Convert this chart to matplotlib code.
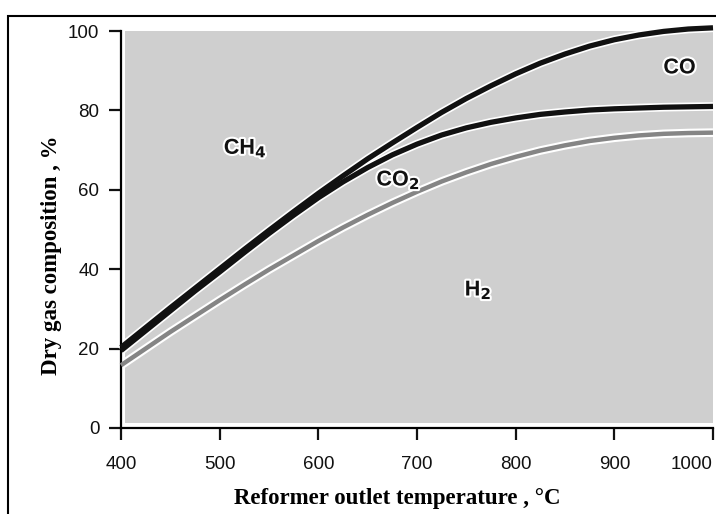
import numpy as np
import matplotlib.pyplot as plt
import matplotlib.patheffects as pe
from matplotlib.patches import Rectangle

# Температура на виході риформера, °C
temps = [400, 425, 450, 475, 500, 525, 550, 575, 600, 625, 650, 675, 700,
         725, 750, 775, 800, 825, 850, 875, 900, 925, 950, 975, 1000]
# Межа CH4 / CO
ch4_co = [20.3, 25.3, 30.3, 35.2, 40.1, 45.0, 49.8, 54.5, 59.1, 63.5, 67.8, 71.8, 75.7,
          79.5, 83.0, 86.2, 89.2, 91.9, 94.2, 96.2, 97.8, 99.0, 99.9, 100.5, 100.8]
# Межа CO / CO2
co_co2 = [19.5, 24.5, 29.5, 34.5, 39.3, 44.2, 49.0, 53.6, 58.0, 62.0, 65.6, 68.8, 71.5,
          73.8, 75.6, 77.0, 78.1, 79.0, 79.6, 80.1, 80.4, 80.6, 80.8, 80.9, 81.0]
# Межа CO2 / H2
co2_h2 = [15.8, 20.0, 24.2, 28.2, 32.2, 36.1, 39.9, 43.5, 47.1, 50.5, 53.7, 56.7, 59.5,
          62.1, 64.4, 66.5, 68.3, 69.9, 71.2, 72.3, 73.1, 73.7, 74.1, 74.3, 74.4]

x_ticks = [400, 500, 600, 700, 800, 900, 1000]
y_ticks = [0, 20, 40, 60, 80, 100]

# Підписи областей
region_names = ['CH$_\\mathbf{4}$', 'CO$_\\mathbf{2}$', 'CO', 'H$_\\mathbf{2}$']
region_x = [526, 681, 966, 762]
region_y = [70.5, 62.5, 90.7, 34.8]


def plot_chart():
    fig = plt.figure(figsize=(7.16, 5.14), dpi=100)
    ax = fig.add_axes([121 / 716, 86 / 514, 592 / 716, 397 / 514])

    # Рамка навколо рисунка
    fig.patches.append(Rectangle((8 / 716, -0.1), 1.2, 1.1 - 16 / 514,
                                 transform=fig.transFigure, fill=False,
                                 edgecolor='black', linewidth=1.5))

    # Сірий фон області графіка
    ax.add_patch(Rectangle((404, 1.2), 596, 98.8, facecolor='#cfcfcf',
                           edgecolor='none', zorder=0))

    # Спочатку білі обводки, потім самі лінії
    for ys in [co2_h2, co_co2, ch4_co]:
        ax.plot(temps, ys, color='white', linewidth=6.2, solid_capstyle='butt',
                clip_on=False, zorder=2)
    ax.plot(temps, co2_h2, color='#858585', linewidth=3.2, solid_capstyle='butt',
            clip_on=False, zorder=3)
    ax.plot(temps, co_co2, color='#111111', linewidth=3.8, solid_capstyle='butt',
            clip_on=False, zorder=3)
    ax.plot(temps, ch4_co, color='#111111', linewidth=3.8, solid_capstyle='butt',
            clip_on=False, zorder=3)

    for name, tx, ty in zip(region_names, region_x, region_y):
        ax.text(tx, ty, name, ha='center', va='center', fontsize=15.5,
                fontweight='bold', family=['Liberation Sans', 'DejaVu Sans'],
                color='#111111', zorder=5,
                path_effects=[pe.withStroke(linewidth=3, foreground='white')])

    ax.set_xlim(400, 1000)
    ax.set_ylim(0, 100)
    ax.set_xticks(x_ticks)
    ax.set_yticks(y_ticks)
    ax.set_facecolor('white')
    for side in ['top', 'right']:
        ax.spines[side].set_visible(False)
    for side in ['left', 'bottom']:
        ax.spines[side].set_linewidth(1.6)
    ax.tick_params(direction='out', length=8.5, width=1.6, labelsize=13.5,
                   colors='#111111')
    ax.tick_params(axis='x', pad=12)
    ax.tick_params(axis='y', pad=7)
    for lab in ax.get_xticklabels() + ax.get_yticklabels():
        lab.set_family('Liberation Sans')
    ax.get_xticklabels()[-1].set_horizontalalignment('right')

    ax.set_xlabel('Reformer outlet temperature , \u00b0C', fontsize=16.5,
                  fontweight='bold', family='Liberation Serif')
    ax.set_ylabel('Dry gas composition , %', fontsize=16.5,
                  fontweight='bold', family='Liberation Serif')
    ax.xaxis.set_label_coords(0.466, -0.152)
    ax.yaxis.set_label_coords(-0.0997, 0.436)

    fig.savefig('out.png', dpi=100)


if __name__ == '__main__':
    plot_chart()
